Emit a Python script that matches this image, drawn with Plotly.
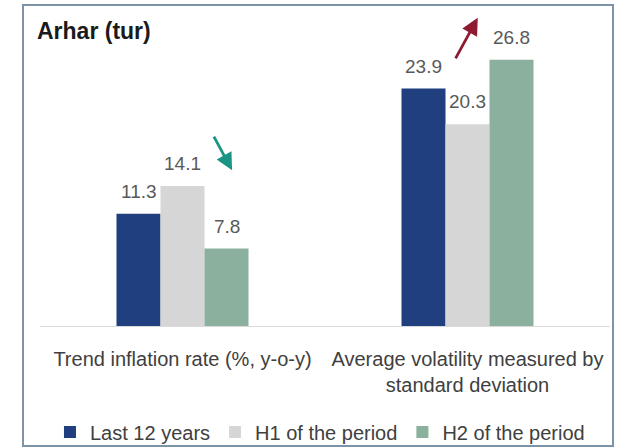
import plotly.graph_objects as go

categories = ["Trend inflation rate (%, y-o-y)", "Average volatility measured by<br>standard deviation"]
series_names = ["Last 12 years", "H1 of the period", "H2 of the period"]
last12 = [11.3, 23.9]
h1 = [14.1, 20.3]
h2 = [7.8, 26.8]
series_values = [last12, h1, h2]
colors = ["#1F3F7F", "#D6D6D6", "#8BB09E"]

bar_w = 0.1544
fig = go.Figure()
for j, (name, vals) in enumerate(zip(series_names, series_values)):
    xs = [i + (j - 1) * bar_w for i in range(len(categories))]
    fig.add_trace(go.Bar(
        x=xs, y=vals, width=bar_w, name=name,
        marker=dict(color=colors[j], line=dict(width=0)),
    ))
    for x, v in zip(xs, vals):
        fig.add_annotation(
            x=x, y=v, xref="x", yref="y", text=f"{v:.1f}", showarrow=False,
            yanchor="bottom", yshift=10,
            font=dict(family="Liberation Sans, Arial", size=19, color="#595959"),
        )

# title
fig.add_annotation(
    x=-0.008, y=0.99, xref="paper", yref="paper", text="<b>Arhar (tur)</b>",
    showarrow=False, xanchor="left", yanchor="middle",
    font=dict(family="Liberation Sans, Arial", size=23, color="#1A1A1A"),
)
# arrows
fig.add_annotation(
    x=0.337, y=0.523, xref="paper", yref="paper", ax=-19, ay=-35, text="",
    showarrow=True, arrowhead=2, arrowsize=1.2, arrowwidth=2.8, arrowcolor="#1A9485",
)
fig.add_annotation(
    x=0.768, y=1.034, xref="paper", yref="paper", ax=-23, ay=42, text="",
    showarrow=True, arrowhead=2, arrowsize=1.2, arrowwidth=2.8, arrowcolor="#8E1B32",
)
# frame
fig.add_shape(
    type="rect", xref="paper", yref="paper",
    x0=-0.0298, x1=1.0053, y0=-0.403, y1=1.077,
    line=dict(color="#7D93A8", width=2), fillcolor="rgba(0,0,0,0)", layer="above",
)

fig.update_layout(
    width=621, height=448,
    margin=dict(l=40, r=11, t=28, b=122, autoexpand=False),
    paper_bgcolor="white", plot_bgcolor="white",
    barmode="overlay",
    showlegend=True,
    legend=dict(
        orientation="h", x=0.0175, y=-0.356, xanchor="left", yanchor="middle",
        bgcolor="rgba(0,0,0,0)",
        font=dict(family="Liberation Sans, Arial", size=20, color="#404040"),
        itemwidth=30, traceorder="normal",
    ),
    xaxis=dict(
        range=[-0.5, 1.5], tickmode="array", tickvals=list(range(len(categories))),
        ticktext=categories, showgrid=False, zeroline=False, automargin=False,
        showline=True, linecolor="#D9D9D9", linewidth=1,
        ticks="outside", ticklen=15, tickcolor="rgba(0,0,0,0)",
        tickfont=dict(family="Liberation Sans, Arial", size=20, color="#404040"),
    ),
    yaxis=dict(range=[0, 30], visible=False, showgrid=False, zeroline=False, automargin=False),
)

fig.write_html(
    "out.html",
    config={"displayModeBar": False},
    post_script="document.body.style.margin='0';document.body.style.overflow='hidden';",
)
